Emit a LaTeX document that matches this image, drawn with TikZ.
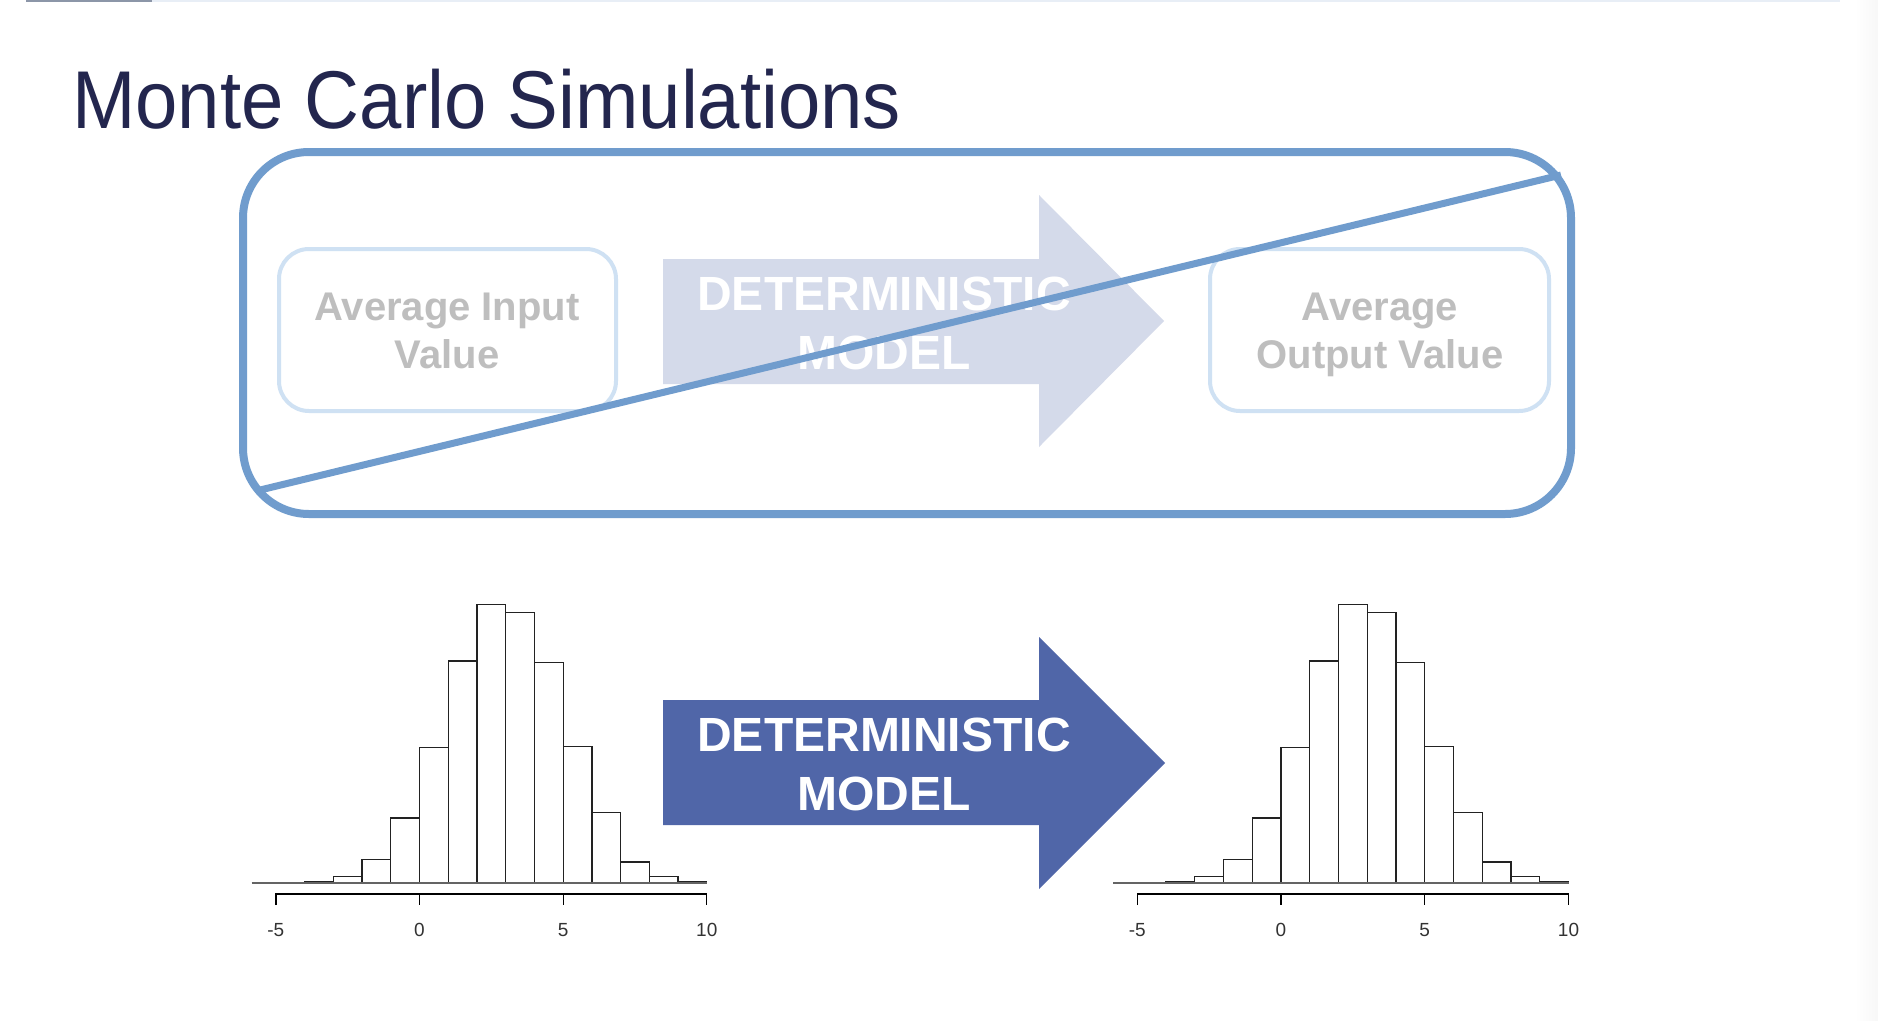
\documentclass[tikz,border=0pt]{standalone}
\usepackage{fontspec}
\setmainfont{Liberation Sans}
\definecolor{titlecol}{RGB}{35,38,78}
\definecolor{bigline}{RGB}{112,156,205}
\definecolor{fadeline}{RGB}{207,225,243}
\definecolor{fadetext}{RGB}{190,190,190}
\definecolor{fadearrow}{RGB}{212,218,234}
\definecolor{mainarrow}{RGB}{80,102,168}
\definecolor{histline}{RGB}{34,34,34}
\definecolor{baseg}{RGB}{100,100,100}
\definecolor{ticklab}{RGB}{51,51,51}
\definecolor{topdark}{RGB}{140,150,168}
\definecolor{toplight}{RGB}{232,238,246}
\begin{document}
\begin{tikzpicture}[x=1pt,y=-1pt,
  fadebox/.style={draw=fadeline, line width=4pt, rounded corners=30pt, minimum width=337pt, minimum height=162pt, inner sep=0pt},
  fadelabel/.style={anchor=base, inner sep=0pt, text=fadetext, font=\fontsize{40}{48}\selectfont\bfseries},
  arrowlabel/.style={anchor=base, inner sep=0pt, text=white, font=\fontsize{48}{58}\selectfont\bfseries},
  bigstroke/.style={draw=bigline, line width=8pt},
  hbar/.style={draw=histline, line width=1.3pt, fill=white},
  axisline/.style={draw=black, line width=1.3pt},
  ticklabel/.style={anchor=base, inner sep=0pt, text=ticklab, font=\fontsize{19}{22}\selectfont}
]
\useasboundingbox (0,0) rectangle (1878,1020);
\fill[white] (0,0) rectangle (1878,1020);
\shade[left color=white, right color=black!3] (1855,0) rectangle (1878,1020);
% top rule
\fill[toplight] (152,0) rectangle (1840,1.6);
\fill[topdark] (26,0) rectangle (152,1.6);

% title
\node[anchor=base west, inner sep=0pt, text=titlecol, font=\fontsize{82}{90}\selectfont] (title) at (72,128) {\scalebox{0.928}[1]{Monte Carlo Simulations}};

% ---------- crossed-out deterministic scheme ----------
\node[fadebox] (inbox) at (447.5,330) {};
\node[fadebox, minimum width=339pt] (outbox) at (1379.5,330) {};
\node[fadelabel] (in1) at (447,320) {Average Input};
\node[fadelabel] (in2) at (447,368) {Value};
\node[fadelabel] (out1) at (1380,320) {Average};
\node[fadelabel] (out2) at (1380,368) {Output Value};

\fill[fadearrow] (663,259) -- (1039,259) -- (1039,195) -- (1164,321) -- (1039,447) -- (1039,384) -- (663,384) -- cycle;
\node[arrowlabel] (ta1) at (884,310) {DETERMINISTIC};
\node[arrowlabel] (ta2) at (884,369) {MODEL};

\draw[bigstroke, rounded corners=66pt] (243,152) rectangle (1571,514);
\coordinate (dA) at (256,491);
\coordinate (dB) at (1561,175);
\draw[bigstroke, line width=7pt] (dA) -- (dB);

% ---------- bottom arrow ----------
\fill[mainarrow] (663,700) -- (1039,700) -- (1039,637) -- (1165,763) -- (1039,889) -- (1039,825) -- (663,825) -- cycle;
\node[arrowlabel] (ba1) at (884,751) {DETERMINISTIC};
\node[arrowlabel] (ba2) at (884,810) {MODEL};

% ---------- histograms ----------
\foreach \xo/\u/\nm in {419.5/28.73/L, 1281/28.75/R}{
  \foreach \i/\h in {-4/1,-3/6,-2/23.4,-1/64.7,0/135,1/221.7,2/278,3/270,4/220.4,5/136.4,6/70.4,7/20.7,8/6,9/1}{
    \draw[hbar] ({\xo+\i*\u},882.7) rectangle ({\xo+(\i+1)*\u},{882.7-\h});
  }
  \draw[draw=baseg, line width=1.8pt] ({\xo-5.84*\u},882.7) -- ({\xo+10*\u},882.7);
  \draw[axisline] ({\xo-5*\u},905) -- ({\xo-5*\u},894) -- ({\xo+10*\u},894) -- ({\xo+10*\u},905);
  \foreach \t in {0,5}{
    \draw[axisline] ({\xo+\t*\u},894) -- ({\xo+\t*\u},905);
  }
  \foreach \t in {-5,0,5,10}{
    \node[ticklabel] (tick\nm\t) at ({\xo+\t*\u},936.5) {\t};
  }
}
\end{tikzpicture}
\end{document}
